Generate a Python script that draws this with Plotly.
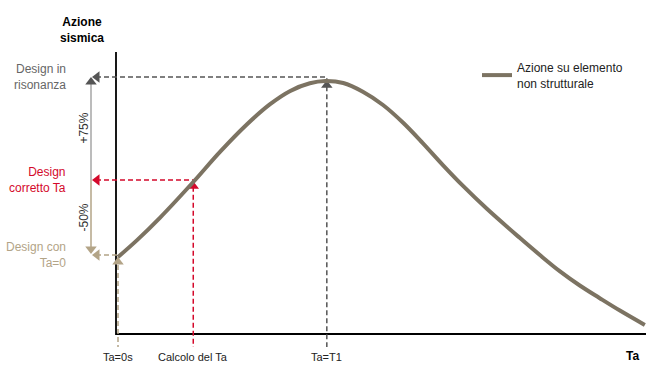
import plotly.graph_objects as go

# ---- data ----
ta = [0, 0.36, 0.79, 1.42, 1.92, 2.43, 2.87, 3.25, 3.62, 3.91, 4.25, 4.62, 5.00, 5.38,
      5.75, 6.13, 6.51, 6.96, 7.58, 7.96, 8.34, 8.72, 9.09, 9.47, 9.94]
azione = [2.73, 3.33, 4.12, 5.39, 6.45, 7.43, 8.15, 8.62, 8.89, 8.97, 8.90, 8.59, 8.12, 7.49,
          6.77, 5.99, 5.25, 4.44, 3.41, 2.80, 2.22, 1.71, 1.27, 0.83, 0.32]

design_ta = [0, 1.42, 3.94]
design_level = [2.80, 5.46, 9.11]
design_labels = ["Design con<br>Ta=0", "Design<br>corretto Ta", "Design in<br>risonanza"]
tick_labels = ["Ta=0s", "Calcolo del Ta", "Ta=T1"]
pct_labels = ["-50%", "+75%"]
series_name = "Azione su elemento<br>non strutturale"

# ---- style ----
W, H = 670, 379
PX_X, PX_Y = 53.0, 28.2          # pixels per data unit
X0_PX, Y0_PX = 118, 334          # pixel position of x=0, y=0
xr = [(0 - X0_PX) / PX_X, (W - X0_PX) / PX_X]
yr = [(Y0_PX - H) / PX_Y, Y0_PX / PX_Y]

def dx(p):
    return p / PX_X

def dy(p):
    return p / PX_Y

curve_col = "#7c7362"
tan = "#b3a487"
red = "#d4092b"
grey = "#555555"
light_grey = "#a6a6a6"
colors = [tan, red, grey]
text_colors = ["#b3a487", "#d4092b", "#666666"]
FONT = "Liberation Sans, Arial, sans-serif"

x_axis_start = dx(-2)
x_axis_end = dx(646 - X0_PX)
y_axis_top = dy(Y0_PX - 52)
x_left = dx(93 - X0_PX)
x_bracket = dx(91 - X0_PX)
y_bottom = dy(Y0_PX - 347)

fig = go.Figure()

# axes lines
fig.add_trace(go.Scatter(x=[x_axis_start, x_axis_start, x_axis_end], y=[y_axis_top, 0, 0],
                         mode="lines", line=dict(color="black", width=1.8),
                         showlegend=False, hoverinfo="skip"))

# dashed guide lines and arrowheads
for t, lv, c in zip(design_ta, design_level, colors):
    fig.add_trace(go.Scatter(x=[x_left + dx(3), t, t], y=[lv, lv, y_bottom],
                             mode="lines", line=dict(color=c, width=1.5, dash="5px,3px"),
                             showlegend=False, hoverinfo="skip"))
    fig.add_trace(go.Scatter(x=[x_left + dx(4)], y=[lv], mode="markers",
                             marker=dict(symbol="triangle-left", size=10, color=c),
                             showlegend=False, hoverinfo="skip", cliponaxis=False))

# vertical up arrows at curve points
curve_at = [2.73, 5.42, 9.0]
for t, lv, c in zip(design_ta, curve_at, colors):
    fig.add_trace(go.Scatter(x=[t], y=[lv - dy(5)], mode="markers",
                             marker=dict(symbol="triangle-up", size=10, color=c),
                             showlegend=False, hoverinfo="skip", cliponaxis=False))

# bracket on the left
fig.add_trace(go.Scatter(x=[x_bracket, x_bracket], y=[design_level[2] - dy(4), design_level[1]],
                         mode="lines", line=dict(color=light_grey, width=1.5),
                         showlegend=False, hoverinfo="skip"))
fig.add_trace(go.Scatter(x=[x_bracket, x_bracket], y=[design_level[1], design_level[0] + dy(6)],
                         mode="lines", line=dict(color=tan, width=1.5),
                         showlegend=False, hoverinfo="skip"))
fig.add_trace(go.Scatter(x=[x_bracket], y=[design_level[2] - dy(5)], mode="markers",
                         marker=dict(symbol="triangle-up", size=10, color=grey),
                         showlegend=False, hoverinfo="skip", cliponaxis=False))
fig.add_trace(go.Scatter(x=[x_bracket], y=[design_level[0] + dy(6)], mode="markers",
                         marker=dict(symbol="triangle-down", size=10, color=tan),
                         showlegend=False, hoverinfo="skip", cliponaxis=False))

# main curve
fig.add_trace(go.Scatter(x=ta, y=azione, mode="lines", name=series_name,
                         line=dict(color=curve_col, width=4, shape="spline", smoothing=1.0),
                         hoverinfo="skip"))

annotations = []
for lv, lab, tc in zip(design_level, design_labels, text_colors):
    annotations.append(dict(x=dx(68 - X0_PX), y=lv, xref="x", yref="y", text=lab,
                            showarrow=False, xanchor="right", yanchor="middle", align="right",
                            font=dict(family=FONT, size=12, color=tc)))
for t, lab in zip(design_ta, tick_labels):
    annotations.append(dict(x=t, y=dy(Y0_PX - 357), xref="x", yref="y", text=lab,
                            showarrow=False, xanchor="center", yanchor="middle",
                            font=dict(family=FONT, size=11, color="#222222")))
pct_pos = [(design_level[0] + design_level[1]) / 2, (design_level[1] + design_level[2]) / 2]
for yy, lab in zip(pct_pos, pct_labels):
    annotations.append(dict(x=dx(84 - X0_PX), y=yy, xref="x", yref="y", text=lab,
                            showarrow=False, textangle=-90, xanchor="center", yanchor="middle",
                            font=dict(family=FONT, size=12, color="#333333")))
annotations.append(dict(x=82 / W, y=1 - 30 / H, xref="paper", yref="paper",
                        text="<b>Azione<br>sismica</b>", showarrow=False,
                        xanchor="center", yanchor="middle",
                        font=dict(family=FONT, size=12, color="black")))
annotations.append(dict(x=632 / W, y=1 - 356 / H, xref="paper", yref="paper",
                        text="<b>Ta</b>", showarrow=False, xanchor="center", yanchor="middle",
                        font=dict(family=FONT, size=12, color="black")))

fig.update_layout(
    width=W, height=H,
    margin=dict(l=0, r=0, t=0, b=0),
    paper_bgcolor="white", plot_bgcolor="white",
    xaxis=dict(range=xr, visible=False, fixedrange=True),
    yaxis=dict(range=yr, visible=False, fixedrange=True),
    showlegend=True,
    legend=dict(x=477 / W, y=1 - 53 / H, xanchor="left", yanchor="top",
                font=dict(family=FONT, size=12, color="#222222"),
                bgcolor="rgba(0,0,0,0)"),
    annotations=annotations,
)

fig.write_html("out.html")
